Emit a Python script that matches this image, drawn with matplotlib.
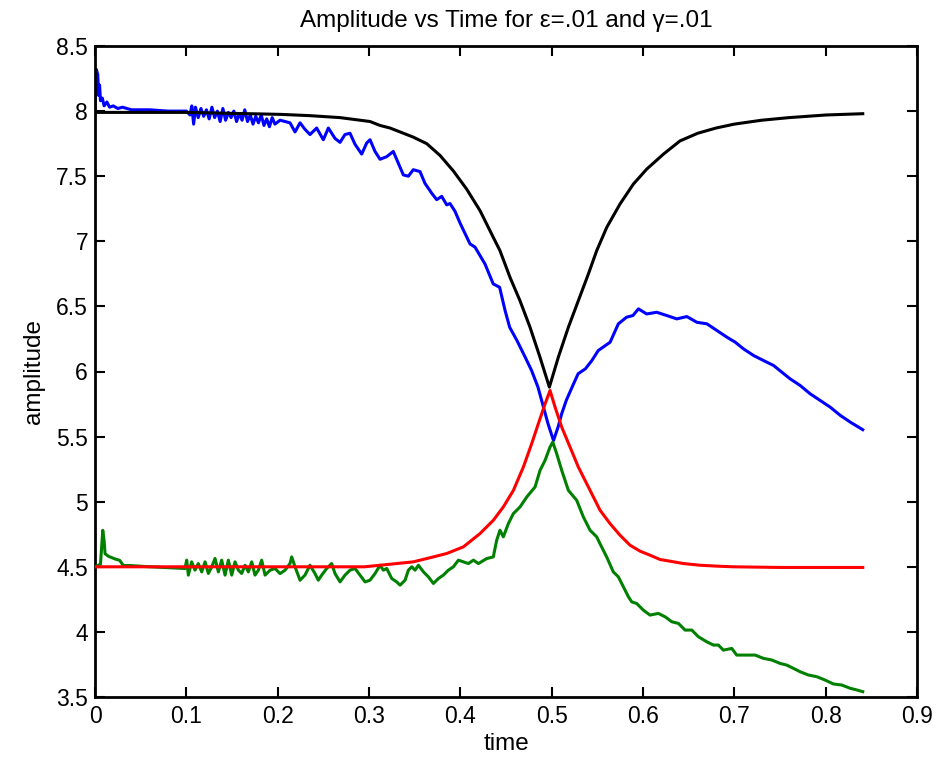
import matplotlib
matplotlib.use("Agg")
import matplotlib.pyplot as plt

# ---------------- data ----------------
black_t = [0.0, 0.1, 0.2026, 0.2354, 0.2683, 0.3011, 0.312, 0.323, 0.334, 0.3485, 0.3632,
           0.3777, 0.3924, 0.407, 0.4216, 0.4361, 0.4434, 0.4544, 0.4653, 0.4763, 0.4872,
           0.4975, 0.5073, 0.5183, 0.5292, 0.5402, 0.5493, 0.5603, 0.5748, 0.5894, 0.604,
           0.6223, 0.6405, 0.66, 0.68, 0.70, 0.73, 0.76, 0.80, 0.8406]
black_v = [7.99, 7.99, 7.975, 7.965, 7.95, 7.92, 7.89, 7.87, 7.84, 7.80, 7.75,
           7.66, 7.54, 7.40, 7.235, 7.03, 6.928, 6.723, 6.544, 6.34, 6.11,
           5.88, 6.11, 6.34, 6.544, 6.749, 6.928, 7.107, 7.286, 7.439, 7.554,
           7.669, 7.771, 7.83, 7.87, 7.90, 7.93, 7.95, 7.97, 7.98]

red_t = [0.0, 0.1, 0.2, 0.295, 0.3121, 0.3303, 0.3485, 0.3705, 0.385, 0.4033, 0.4124,
         0.4215, 0.4361, 0.4471, 0.4581, 0.4690, 0.4781, 0.4854, 0.4928, 0.4982, 0.5037,
         0.5110, 0.5201, 0.5292, 0.5402, 0.5530, 0.5639, 0.5749, 0.5858, 0.5968, 0.6077,
         0.6187, 0.6296, 0.6443, 0.6625, 0.6807, 0.6990, 0.75, 0.80, 0.8406]
red_v = [4.50, 4.50, 4.50, 4.50, 4.512, 4.525, 4.538, 4.576, 4.602, 4.653, 4.704,
         4.755, 4.857, 4.960, 5.087, 5.266, 5.445, 5.599, 5.752, 5.854, 5.727,
         5.573, 5.420, 5.266, 5.113, 4.934, 4.832, 4.742, 4.666, 4.62, 4.589,
         4.556, 4.543, 4.525, 4.512, 4.505, 4.50, 4.495, 4.495, 4.495]

blue_t = [0.0, 0.0015, 0.003, 0.004, 0.005, 0.006, 0.008, 0.010, 0.013, 0.016, 0.020,
          0.025, 0.030, 0.040, 0.060, 0.080, 0.100,
          0.104, 0.106, 0.108, 0.110, 0.113, 0.116, 0.119, 0.122, 0.125, 0.128, 0.131,
          0.134, 0.137, 0.140, 0.143, 0.146, 0.149, 0.152, 0.155, 0.158, 0.161, 0.164,
          0.167, 0.170, 0.173, 0.176, 0.179, 0.182, 0.185, 0.188, 0.191, 0.194, 0.197,
          0.2026, 0.2135, 0.219, 0.2245, 0.2299, 0.2354, 0.2427, 0.250, 0.2555, 0.2628,
          0.2683, 0.2737, 0.2792, 0.2847, 0.292, 0.2975, 0.3011, 0.3066, 0.3121, 0.3194,
          0.3266, 0.3321, 0.3376, 0.3431, 0.3485, 0.3559, 0.3613, 0.3686, 0.3741, 0.3796,
          0.3851, 0.3887, 0.3942, 0.3997, 0.4051, 0.4106, 0.4161,
          0.427, 0.436, 0.443, 0.449, 0.454, 0.462, 0.471, 0.478, 0.485, 0.491, 0.496,
          0.502, 0.507, 0.511, 0.516, 0.524, 0.529, 0.537, 0.544, 0.551,
          0.564, 0.573, 0.582, 0.589, 0.595, 0.604, 0.615, 0.626, 0.637, 0.648, 0.659,
          0.670, 0.681, 0.692, 0.701, 0.710, 0.721, 0.732, 0.743, 0.752, 0.761, 0.772,
          0.783, 0.794, 0.805, 0.816, 0.827, 0.8406]
blue_v = [8.00, 8.32, 8.28, 8.12, 8.20, 8.08, 8.10, 8.04, 8.07, 8.03, 8.04,
          8.02, 8.03, 8.01, 8.01, 8.00, 8.00,
          7.97, 8.04, 7.90, 8.03, 7.95, 8.02, 7.96, 8.01, 7.94, 8.03, 7.95,
          8.00, 7.92, 8.02, 7.93, 7.99, 7.95, 8.00, 7.92, 7.98, 7.93, 8.01,
          7.92, 7.97, 7.90, 7.96, 7.91, 7.97, 7.89, 7.94, 7.88, 7.95, 7.90,
          7.93, 7.91, 7.84, 7.91, 7.86, 7.82, 7.87, 7.78, 7.87, 7.79,
          7.76, 7.82, 7.83, 7.745, 7.67, 7.755, 7.78, 7.69, 7.63, 7.65,
          7.69, 7.60, 7.51, 7.50, 7.55, 7.535, 7.445, 7.37, 7.32, 7.345,
          7.28, 7.29, 7.23, 7.14, 7.06, 6.98, 6.955,
          6.826, 6.673, 6.647, 6.468, 6.34, 6.238, 6.11, 6.008, 5.88, 5.726, 5.599,
          5.47, 5.573, 5.676, 5.778, 5.906, 5.983, 6.021, 6.084, 6.161,
          6.225, 6.366, 6.417, 6.43, 6.481, 6.442, 6.455, 6.43, 6.404, 6.422, 6.378,
          6.366, 6.314, 6.263, 6.225, 6.174, 6.123, 6.084, 6.046, 5.995, 5.944, 5.893,
          5.829, 5.778, 5.726, 5.663, 5.611, 5.553]

green_t = [0.0, 0.006, 0.0085, 0.010, 0.011, 0.015, 0.022, 0.027, 0.031, 0.038, 0.060,
           0.0985, 0.1004, 0.1022, 0.1058, 0.1095, 0.1131, 0.1168, 0.1205, 0.1241, 0.1278,
           0.1314, 0.1351, 0.1387, 0.1424, 0.1460, 0.1497, 0.1533, 0.1570, 0.1606, 0.1643,
           0.1679, 0.1716, 0.1752, 0.1789, 0.1825, 0.1862, 0.1917, 0.1971,
           0.2026, 0.2081, 0.2135, 0.2154, 0.2190, 0.2245, 0.2299, 0.2354, 0.2409, 0.2445,
           0.2482, 0.2537, 0.2591, 0.2628, 0.2683, 0.2737, 0.2792, 0.2847, 0.2902, 0.2957,
           0.3011, 0.3066, 0.3121, 0.3157, 0.3194, 0.3249, 0.3303, 0.3340, 0.3395, 0.3431,
           0.3468, 0.3504, 0.3541, 0.3596, 0.3650, 0.3705, 0.3760, 0.3814, 0.3869, 0.3924,
           0.3979, 0.4033, 0.4088, 0.4143, 0.4198,
           0.4288, 0.4361, 0.4398, 0.4434, 0.4471, 0.4526, 0.4581, 0.4654, 0.4727, 0.4818,
           0.4873, 0.4928, 0.4982, 0.5012, 0.5055, 0.5110, 0.5183, 0.5274, 0.5347, 0.5420,
           0.5493, 0.5529, 0.5602, 0.5675, 0.5730, 0.5785, 0.5840, 0.5876, 0.5931, 0.6004,
           0.6077, 0.6168, 0.6242, 0.6315, 0.6388, 0.6461, 0.6534, 0.6606, 0.6698, 0.6771,
           0.6825, 0.6880, 0.6972, 0.7026, 0.7136, 0.7227, 0.7318, 0.7410, 0.7501, 0.7574,
           0.7647, 0.7720, 0.7811, 0.7903, 0.7994, 0.8085, 0.8176, 0.8268, 0.8341, 0.8406]
green_v = [4.50, 4.52, 4.78, 4.70, 4.60, 4.58, 4.56, 4.55, 4.51, 4.51, 4.50,
           4.487, 4.551, 4.436, 4.538, 4.474, 4.525, 4.461, 4.538, 4.449, 4.499,
           4.564, 4.461, 4.551, 4.436, 4.551, 4.436, 4.538, 4.474, 4.449, 4.512,
           4.461, 4.538, 4.436, 4.474, 4.551, 4.436, 4.474, 4.487,
           4.448, 4.474, 4.525, 4.576, 4.500, 4.397, 4.436, 4.512, 4.448, 4.397,
           4.436, 4.487, 4.525, 4.448, 4.384, 4.436, 4.474, 4.487, 4.436, 4.384,
           4.397, 4.448, 4.512, 4.474, 4.487, 4.410, 4.384, 4.359, 4.397, 4.474,
           4.500, 4.474, 4.512, 4.461, 4.423, 4.372, 4.410, 4.436, 4.474, 4.500,
           4.551, 4.538, 4.525, 4.551, 4.525,
           4.563, 4.576, 4.704, 4.781, 4.730, 4.832, 4.909, 4.960, 5.036, 5.113,
           5.241, 5.318, 5.420, 5.458, 5.369, 5.241, 5.087, 5.011, 4.883, 4.781,
           4.730, 4.678, 4.576, 4.461, 4.423, 4.346, 4.270, 4.231, 4.218, 4.167,
           4.129, 4.142, 4.116, 4.078, 4.065, 4.014, 4.014, 3.963, 3.924, 3.899,
           3.899, 3.860, 3.873, 3.822, 3.822, 3.822, 3.797, 3.784, 3.758, 3.745,
           3.720, 3.694, 3.669, 3.656, 3.630, 3.600, 3.592, 3.567, 3.554, 3.541]

x_ticks = [0, 0.1, 0.2, 0.3, 0.4, 0.5, 0.6, 0.7, 0.8, 0.9]
x_ticklabels = ["0", "0.1", "0.2", "0.3", "0.4", "0.5", "0.6", "0.7", "0.8", "0.9"]
y_ticks = [3.5, 4, 4.5, 5, 5.5, 6, 6.5, 7, 7.5, 8, 8.5]
y_ticklabels = ["3.5", "4", "4.5", "5", "5.5", "6", "6.5", "7", "7.5", "8", "8.5"]

title_text = "Amplitude vs Time for \u03b5=.01 and \u03b3=.01"
x_label = "time"
y_label = "amplitude"

# ---------------- drawing ----------------
plt.rcParams['font.family'] = ['Liberation Sans', 'DejaVu Sans']

fig = plt.figure(figsize=(9.36, 7.63), dpi=100)
ax = fig.add_axes([95 / 936, 1 - 697 / 763, (917 - 95) / 936, (697 - 46) / 763])

lw = 2.2
ax.plot(blue_t, blue_v, color=(0, 0, 1), lw=lw, zorder=2)
ax.plot(green_t, green_v, color=(0, 0.5, 0), lw=lw, zorder=3)
ax.plot(black_t, black_v, color='black', lw=lw, zorder=4)
ax.plot(red_t, red_v, color=(1, 0, 0), lw=lw, zorder=5)

ax.set_xlim(0, 0.9)
ax.set_ylim(3.5, 8.5)
ax.set_xticks(x_ticks)
ax.set_xticklabels(x_ticklabels)
ax.set_yticks(y_ticks)
ax.set_yticklabels(y_ticklabels)
ax.tick_params(direction='in', length=7, width=1.5, top=True, right=True,
               labelsize=16.5, colors='black')
ax.tick_params(axis='x', pad=6)
ax.tick_params(axis='y', pad=5)
for s in ax.spines.values():
    s.set_linewidth(2)

ax.set_title(title_text, fontsize=17.5, pad=14)
ax.set_xlabel(x_label, fontsize=17.5, labelpad=3)
ax.set_ylabel(y_label, fontsize=17.5, labelpad=8)

fig.savefig("out.png", dpi=100, facecolor='white')
